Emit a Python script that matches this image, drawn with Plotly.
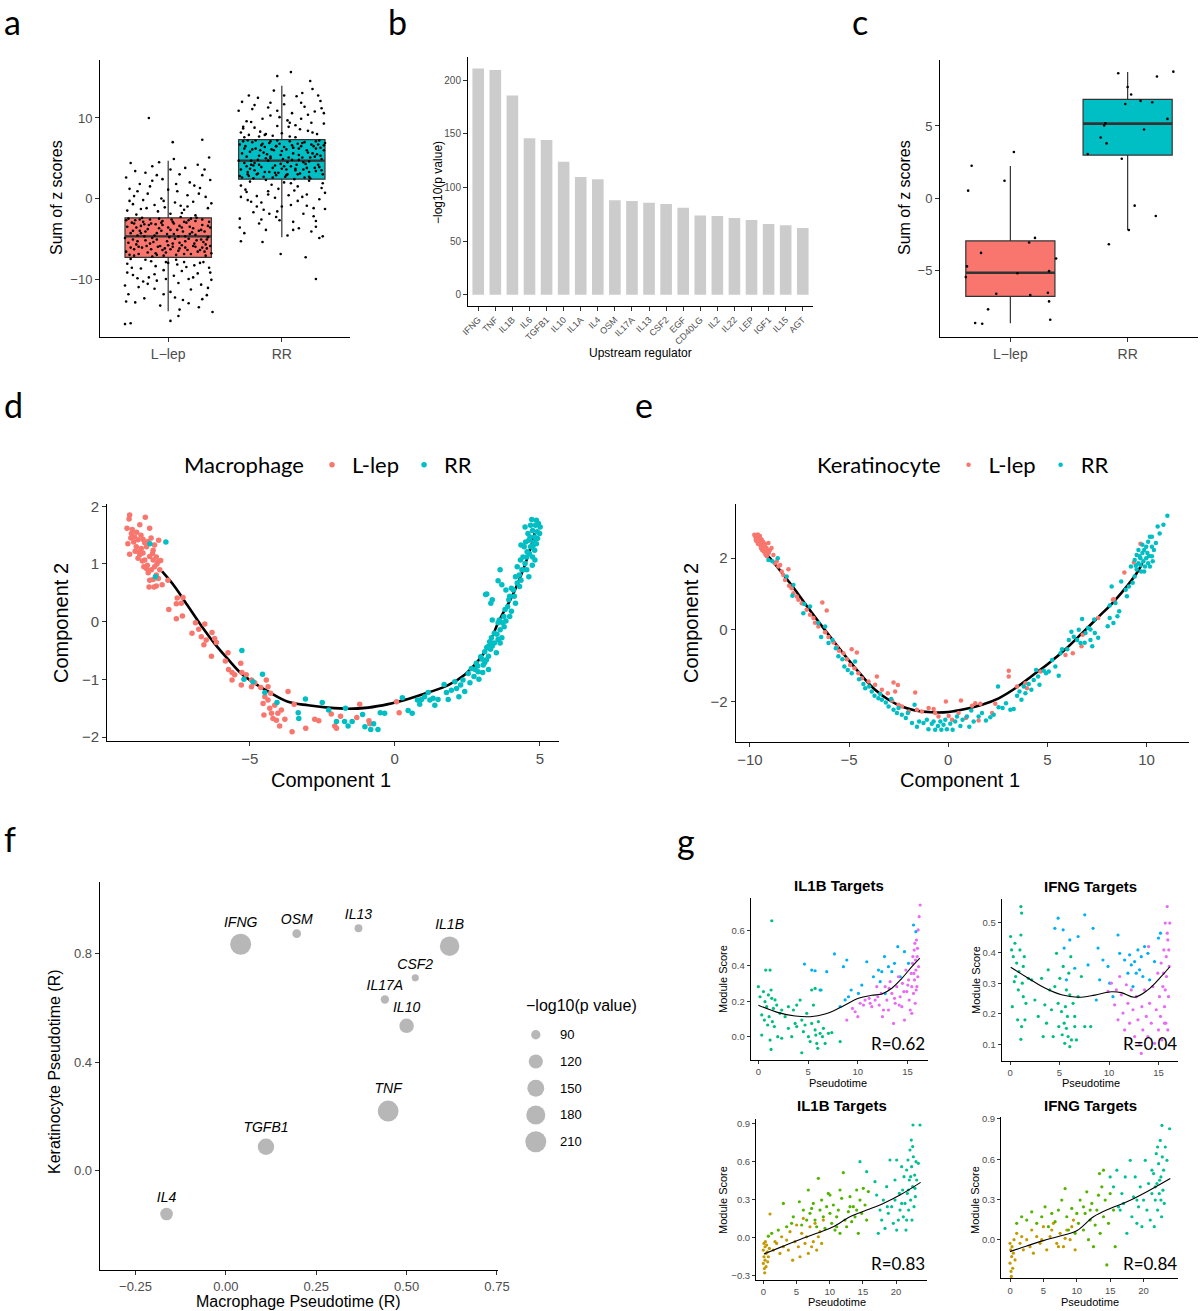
import math
import plotly.graph_objects as go

W, H = 1200, 1311
ARIAL = "Liberation Sans, Arial, sans-serif"
CAL = "Lato, sans-serif"
RED, CYAN = "#F8766D", "#00BFC4"

# ======================= DATA =======================
groups = ["L\u2212lep", "RR"]

# panel a : box statistics + jittered cells (jitter, sum of z scores)
a_q1 = [-7.3, 2.4]
a_med = [-4.7, 4.7]
a_q3 = [-2.4, 7.3]
a_lo = [-14.0, -4.8]
a_hi = [4.7, 14.0]
a_llep = [(-0.35,-2.5),(-0.3,-3.1),(-0.25,-4.0),(-0.2,-5.2),(-0.15,-6.3),(-0.1,-7.0),(-0.05,-2.8),(0.0,-3.6),(0.05,-4.4),(0.1,-5.5),(0.15,-6.1),(0.2,-6.9),(0.25,-2.4),(0.3,-3.3),(0.35,-4.8),(0.37,-5.9),(-0.37,-6.6),(-0.33,-4.3),(-0.28,-5.7),(-0.22,-2.9),(-0.18,-3.8),(-0.12,-4.6),(-0.07,-5.9),(-0.02,-6.7),(0.03,-2.6),(0.08,-3.9),(0.13,-4.1),(0.18,-5.0),(0.23,-5.6),(0.28,-6.4),(0.33,-7.1),(-0.36,-3.5),(-0.31,-5.1),(-0.26,-6.9),(-0.21,-4.7),(-0.16,-2.6),(-0.11,-3.2),(-0.06,-4.0),(-0.01,-5.3),(0.04,-6.0),(0.09,-6.5),(0.14,-2.9),(0.19,-3.5),(0.24,-4.5),(0.29,-5.1),(0.34,-6.2),(-0.34,-7.0),(-0.29,-2.7),(-0.24,-3.4),(-0.19,-5.9),(-0.14,-4.9),(-0.09,-6.0),(-0.04,-7.1),(0.01,-4.8),(0.06,-5.0),(0.11,-2.3),(0.16,-3.0),(0.21,-4.2),(0.26,-6.6),(0.31,-5.4),(0.36,-2.9),(-0.27,-4.6),(-0.13,-5.4),(0.02,-3.9),(0.17,-6.4),(0.32,-4.1),(-0.08,-2.5),(0.07,-7.0),(0.22,-3.7),(-0.23,-6.1),
          (-0.36,-1.5),(-0.3,0.3),(-0.25,1.8),(-0.2,3.2),(-0.12,-0.8),(-0.05,2.4),(0.02,-1.9),(0.08,0.9),(0.15,3.8),(0.22,-0.4),(0.28,1.3),(0.35,-1.2),(-0.33,4.4),(-0.28,-2.0),(-0.18,0.6),(-0.09,-1.6),(0.0,1.1),(0.11,-0.9),(0.19,2.0),(0.26,4.2),(0.33,0.2),(-0.37,2.6),(-0.22,-0.2),(-0.14,4.0),(0.05,4.9),(0.14,-1.4),(0.3,2.9),(0.38,-0.6),(-0.06,0.0),(0.24,-2.1),(-0.31,-0.7),(0.1,3.0),(-0.16,1.5),(0.36,5.1),(-0.03,-1.1),
          (-0.36,-8.1),(-0.31,-9.5),(-0.26,-11.0),(-0.21,-12.4),(-0.15,-7.8),(-0.1,-10.2),(-0.04,-8.9),(0.02,-11.6),(0.07,-7.6),(0.12,-9.0),(0.18,-13.0),(0.23,-8.3),(0.29,-10.7),(0.34,-12.0),(-0.38,-10.8),(-0.33,-7.5),(-0.24,-8.7),(-0.17,-9.8),(-0.07,-13.3),(0.0,-8.0),(0.09,-10.5),(0.16,-8.5),(0.26,-9.3),(0.37,-9.2),(-0.29,-12.9),(-0.12,-11.2),(0.05,-9.6),(0.2,-11.3),(0.31,-7.9),(-0.2,-7.6),(0.13,-12.6),(-0.02,-10.0),(0.35,-11.1),(-0.35,-11.9),(0.27,-13.5),
          (-0.17,10.0),(0.30,7.3),(0.04,7.0),(-0.38,-15.6),(-0.33,-15.5),(0.02,-15.2),(0.09,-14.6),(0.39,-14.1),
          (-0.32,-3.0),(-0.27,-5.3),(-0.17,-3.3),(-0.03,-6.2),(0.12,-5.8),(0.27,-4.0),(0.37,-3.6),(-0.23,-2.4),(-0.1,-4.3),(0.04,-5.6),(0.18,-2.7),(0.33,-5.7),(-0.38,-4.9),(-0.14,-7.2),(0.1,-3.4),(0.24,-6.0),(-0.05,-3.3),(0.3,-2.6),(-0.3,-6.3),(0.15,-4.7),
          (-0.27,0.9),(-0.1,2.9),(0.17,0.4),(0.32,3.6),(-0.34,-0.3),(0.06,-0.5),(-0.19,-1.2),(0.23,1.6),(-0.08,4.5),(0.12,-1.8),
          (-0.27,-9.9),(-0.11,-8.4),(0.06,-12.3),(0.22,-9.8),(0.36,-8.6),(-0.36,-9.2),(-0.18,-10.6),(0.14,-7.9),(0.3,-12.5),(-0.04,-11.9),
          (-0.37,-2.7),(-0.31,-4.0),(-0.26,-6.0),(-0.21,-3.2),(-0.16,-5.6),(-0.11,-6.8),(-0.06,-3.0),(-0.01,-4.4),(0.04,-2.9),(0.09,-4.7),(0.14,-6.9),(0.19,-4.4),(0.24,-2.8),(0.29,-3.9),(0.34,-5.1),(0.38,-6.8),(-0.35,-5.5),(-0.3,-7.1),(-0.25,-2.6),(-0.2,-4.1),(-0.15,-3.1),(-0.1,-5.1),(-0.05,-6.4),(0.0,-5.8),(0.05,-3.1),(0.1,-6.2),(0.15,-5.3),(0.2,-2.5),(0.25,-5.2),(0.3,-6.1),(0.35,-3.4),(-0.33,-6.1),(-0.28,-3.6),(-0.18,-6.7),(-0.08,-3.7),(0.02,-6.3),(0.12,-3.6),(0.22,-5.9),(0.32,-6.6),(-0.24,-4.3),
          (-0.34,1.2),(-0.24,-1.3),(-0.14,2.2),(-0.04,-0.3),(0.07,1.8),(0.17,-1.0),(0.27,0.6),(0.37,2.3),(-0.29,3.4),(0.02,3.6),
          (-0.32,-8.6),(-0.22,-10.3),(-0.12,-9.4),(-0.02,-7.9),(0.08,-8.2),(0.18,-10.0),(0.28,-8.0),(0.38,-10.1),(-0.37,-12.8),(0.1,-13.8)]
a_rr = [(-0.35,2.6),(-0.3,3.3),(-0.25,4.1),(-0.2,5.3),(-0.15,6.4),(-0.1,7.1),(-0.05,2.9),(0.0,3.7),(0.05,4.5),(0.1,5.6),(0.15,6.2),(0.2,7.0),(0.25,2.5),(0.3,3.4),(0.35,4.9),(0.37,6.0),(-0.37,6.7),(-0.33,4.4),(-0.28,5.8),(-0.22,3.0),(-0.18,3.9),(-0.12,4.7),(-0.07,6.0),(-0.02,6.8),(0.03,2.7),(0.08,4.0),(0.13,4.2),(0.18,5.1),(0.23,5.7),(0.28,6.5),(0.33,7.2),(-0.36,3.6),(-0.31,5.2),(-0.26,7.0),(-0.21,4.8),(-0.16,2.7),(-0.11,3.3),(-0.06,4.1),(-0.01,5.4),(0.04,6.1),(0.09,6.6),(0.14,3.0),(0.19,3.6),(0.24,4.6),(0.29,5.2),(0.34,6.3),(-0.34,7.1),(-0.29,2.8),(-0.24,3.5),(-0.19,6.0),(-0.14,5.0),(-0.09,6.1),(-0.04,7.2),(0.01,4.9),(0.06,5.1),(0.11,2.4),(0.16,3.1),(0.21,4.3),(0.26,6.7),(0.31,5.5),(0.36,3.0),(-0.27,4.7),(-0.13,5.5),(0.02,4.0),(0.17,6.5),(0.32,4.2),(-0.08,2.6),(0.07,7.1),(0.22,3.8),(-0.23,6.2),
        (-0.36,8.2),(-0.31,9.6),(-0.26,11.1),(-0.21,12.5),(-0.15,7.9),(-0.1,10.3),(-0.04,9.0),(0.02,11.7),(0.07,7.7),(0.12,9.1),(0.18,13.1),(0.23,8.4),(0.29,10.8),(0.34,12.1),(-0.38,10.9),(-0.33,7.6),(-0.24,8.8),(-0.17,9.9),(-0.07,13.4),(0.0,8.1),(0.09,10.6),(0.16,8.6),(0.26,9.4),(0.37,9.3),(-0.29,12.8),(-0.12,11.3),(0.05,9.7),(0.2,11.4),(0.31,8.0),(-0.2,7.7),(0.13,12.7),(-0.02,10.1),(0.35,11.2),(-0.35,12.0),(0.27,13.6),
        (-0.36,1.6),(-0.3,-0.2),(-0.25,-1.7),(-0.2,-3.1),(-0.12,0.9),(-0.05,-2.3),(0.02,2.0),(0.08,-0.8),(0.15,-3.7),(0.22,0.5),(0.28,-1.2),(0.35,1.3),(-0.33,-4.3),(-0.28,2.1),(-0.18,-0.5),(-0.09,1.7),(0.0,-1.0),(0.11,1.0),(0.19,-1.9),(0.26,-4.1),(0.33,-0.1),(-0.37,-2.5),(-0.22,0.3),(-0.14,-3.9),(0.05,-4.6),(0.14,1.5),(0.3,-2.8),(0.38,0.7),(-0.06,0.1),(0.24,2.2),(-0.31,0.8),(0.1,-2.9),(-0.16,-1.4),(0.36,-4.7),(-0.03,1.2),
        (0.08,15.7),(-0.04,15.2),(0.25,14.6),(0.30,-10.0),(0.21,-7.3),(-0.01,-6.9),(-0.36,-5.3),(-0.17,-5.4),(0.33,-4.9),
        (-0.32,6.5),(-0.27,4.2),(-0.17,6.8),(-0.03,3.2),(0.12,3.7),(0.27,5.6),(0.37,6.6),(-0.23,7.2),(-0.1,5.0),(0.04,3.6),(0.18,6.9),(0.33,3.9),(-0.38,4.7),(-0.14,2.3),(0.1,6.3),(0.24,3.3),(-0.05,6.5),(0.3,7.1),(-0.3,3.0),(0.15,4.8),
        (-0.27,9.5),(-0.1,11.9),(0.17,9.9),(0.32,12.8),(-0.34,8.7),(0.06,8.9),(-0.19,8.3),(0.23,10.4),(-0.08,7.8),(0.12,7.6),
        (-0.27,-0.4),(-0.11,-1.9),(0.06,0.4),(0.22,-0.9),(0.36,1.9),(-0.36,0.2),(-0.18,-2.6),(0.14,-0.3),(0.3,-3.5),(-0.04,-1.6),
        (-0.37,2.8),(-0.31,4.0),(-0.26,6.1),(-0.21,3.1),(-0.16,5.7),(-0.11,6.9),(-0.06,3.2),(-0.01,4.3),(0.04,2.9),(0.09,4.8),(0.14,6.8),(0.19,4.5),(0.24,2.7),(0.29,3.8),(0.34,5.3),(0.38,6.9),(-0.35,5.6),(-0.3,7.2),(-0.25,2.5),(-0.2,4.2),(-0.15,3.3),(-0.1,5.2),(-0.05,6.5),(0.0,5.9),(0.05,3.0),(0.1,6.3),(0.15,5.4),(0.2,2.6),(0.25,5.1),(0.3,6.2),(0.35,3.5),(-0.33,6.2),(-0.28,3.7),(-0.18,6.6),(-0.08,3.8),(0.02,6.4),(0.12,3.5),(0.22,6.0),(0.32,6.7),(-0.24,4.4),
        (-0.34,8.9),(-0.24,11.6),(-0.14,8.0),(-0.04,10.9),(0.07,9.4),(0.17,11.9),(0.27,8.2),(0.37,10.6),(-0.29,7.9),(0.02,12.8),
        (-0.32,1.1),(-0.22,-1.0),(-0.12,0.5),(-0.02,-2.7),(0.08,1.9),(0.18,0.2),(0.28,-2.2),(0.38,-1.3),(-0.37,-3.6),(0.1,-3.9)]

# panel b : upstream regulators
b_regs = ["IFNG","TNF","IL1B","IL6","TGFB1","IL10","IL1A","IL4","OSM","IL17A","IL13","CSF2","EGF","CD40LG","IL2","IL22","LEP","IGF1","IL15","AGT"]
b_vals = [211.0,209.6,185.7,146.0,144.2,124.0,109.7,107.6,88.0,87.4,85.9,84.6,81.2,74.0,73.4,71.6,69.8,66.0,64.8,62.3]

# panel c : box statistics + samples (jitter, value)
c_q1 = [-6.83, 2.98]
c_med = [-5.19, 5.16]
c_q3 = [-2.98, 6.85]
c_lo = [-8.7, -2.22]
c_hi = [2.22, 8.75]
c_llep = [(-0.33,2.24),(-0.36,0.51),(0.03,3.19),(-0.05,1.2),(0.21,-2.77),(0.16,-3.09),(-0.25,-3.81),(0.39,-4.2),(-0.37,-4.75),(-0.38,-5.49),(0.06,-5.22),(0.33,-5.08),(-0.12,-6.65),(0.17,-6.74),(0.32,-6.58),(0.33,-7.18),(-0.19,-7.73),(0.34,-8.45),(-0.3,-8.68),(-0.24,-8.73)]
c_rr = [(-0.08,8.66),(0.39,8.77),(0.25,8.43),(0.0,7.71),(0.03,7.18),(-0.02,6.53),(0.11,6.74),(0.21,6.65),(0.34,5.49),(-0.19,5.19),(-0.2,5.03),(0.14,4.76),(-0.23,4.2),(-0.18,3.79),(-0.34,3.05),(-0.05,2.72),(0.06,-0.53),(0.24,-1.25),(0.01,-2.22),(-0.16,-3.21)]

# panel d : macrophage trajectory (component 1, component 2)
d_traj_c1 = [-8.02,-7.59,-7.13,-6.67,-6.21,-5.75,-5.29,-4.83,-4.37,-3.68,-2.99,-2.30,-1.61,-0.92,-0.23,0.46,1.15,1.84,2.41,2.87,3.22,3.56,4.09,4.62,4.82]
d_traj_c2 = [0.87,0.61,0.27,-0.07,-0.38,-0.65,-0.90,-1.07,-1.21,-1.39,-1.45,-1.49,-1.51,-1.49,-1.43,-1.34,-1.23,-1.10,-0.92,-0.68,-0.43,-0.02,0.49,1.18,1.53]
d_llep = [(-9.14,1.85),(-9.16,1.78),(-8.60,1.81),(-9.23,1.62),(-8.79,1.68),(-8.45,1.62),(-9.08,1.53),(-8.97,1.47),(-9.14,1.17),(-8.85,1.42),(-8.68,1.43),(-8.51,1.39),(-8.14,1.41),(-8.91,1.30),(-8.74,1.27),(-8.56,1.30),(-8.33,1.24),(-8.79,1.16),(-8.45,1.13),(-8.22,1.12),(-8.07,1.06),(-8.62,1.07),(-8.53,0.98),(-8.28,0.95),(-8.39,0.90),(-8.45,0.72),(-8.22,0.81),(-8.47,0.60),(-8.22,0.62),(-8.02,0.64),(-9.00,1.38),(-8.68,1.19),(-8.16,1.04),(-8.33,1.07),(-8.56,0.92),(-8.10,0.90),(-8.33,0.73),(-7.82,0.72),(-8.83,1.21),(-8.28,1.33),
          (-9.05,1.60),(-8.90,1.55),(-8.75,1.50),(-8.62,1.37),(-8.40,1.45),(-9.20,1.35),(-8.95,1.22),(-8.70,1.05),(-8.35,1.18),(-8.20,1.00),(-8.50,0.85),(-8.65,0.95),(-8.30,0.60),(-8.15,0.75),(-8.85,1.10),(-9.10,1.45),
          (-7.79,0.21),(-7.53,0.31),(-7.50,0.41),(-7.30,0.42),(-7.36,0.32),(-7.53,0.05),(-7.32,0.10),(-6.99,-0.20),(-6.87,-0.02),(-6.76,-0.13),(-6.55,-0.04),(-6.67,-0.26),(-6.50,-0.32),(-6.30,-0.19),(-6.21,-0.29),(-6.58,-0.40),(-6.32,-0.60),(-6.15,-0.36),(-5.75,-0.54),(-5.84,-0.68),(-5.73,-0.83),(-5.61,-0.88),(-5.61,-1.01),(-5.52,-0.92),(-5.31,-0.72),(-5.27,-0.88),(-5.29,-1.10),(-5.12,-0.92),(-4.94,-1.01),(-4.94,-1.13),(-4.83,-1.06),(-4.62,-1.14),(-4.43,-1.01),(-4.37,-1.13),(-4.48,-1.30),(-4.54,-1.42),(-4.37,-1.36),(-4.51,-1.62),(-4.31,-1.50),(-4.25,-1.59),(-4.14,-1.45),(-4.20,-1.68),(-4.03,-1.59),(-4.08,-1.71),(-3.97,-1.81),(-3.79,-1.69),(-3.91,-1.53),(-4.28,-1.24),(-3.54,-1.91),(-3.47,-1.43),(-3.07,-1.85),(-2.76,-1.69),(-2.62,-1.72),(-2.07,-1.81),(-2.01,-1.85),(-1.87,-1.64),(-1.31,-1.66),(-1.21,-1.43),(-0.89,-1.72),(-0.86,-1.77),(0.06,-1.39),(0.15,-1.58),(-2.19,-1.60),(-3.68,-1.21)]
d_rr = [(-8.44,1.35),(-7.89,1.38),(-8.25,0.78),(-5.27,-0.50),(-5.20,-1.00),(-4.89,-1.04),(-4.56,-0.91),(-4.48,-1.23),(-4.06,-1.40),(-3.33,-1.58),(-3.31,-1.68),(-3.08,-1.34),(-2.50,-1.40),(-2.28,-1.53),(-2.01,-1.73),(-1.70,-1.50),(-1.73,-1.73),(-1.61,-1.81),(-1.47,-1.73),(-1.11,-1.61),(-1.03,-1.82),(-0.83,-1.87),(-0.73,-1.77),(-0.58,-1.87),(-0.50,-1.58),(-0.35,-1.59),(0.26,-1.32),(0.46,-1.54),(0.60,-1.59),(0.78,-1.36),(0.86,-1.43),(0.92,-1.35),(1.03,-1.30),(1.15,-1.23),(1.21,-1.36),(1.32,-1.33),(1.38,-1.45),(1.49,-1.35),(1.70,-1.09),(1.78,-1.23),(1.84,-1.35),(1.95,-1.19),(2.07,-1.04),(2.13,-1.16),(2.21,-1.30),(2.27,-1.10),(2.35,-1.01),(2.41,-1.21),(2.53,-0.90),(2.59,-1.06),(2.64,-0.81),(2.73,-0.95),(2.81,-0.72),(2.87,-0.87),(2.96,-0.61),(3.05,-0.75),(3.10,-0.52),(3.16,-0.66),(3.22,-0.43),(3.27,-0.35),(3.13,0.47),(3.31,0.32),(3.36,0.03),
        (3.17,0.48),(3.63,0.90),(3.56,0.71),(3.69,0.64),(3.36,0.38),(3.83,0.55),(3.96,0.44),(3.89,0.26),(3.76,0.09),(3.56,-0.02),(3.43,-0.20),(3.63,-0.14),(3.83,0.01),(4.02,0.18),(4.16,0.32),(4.09,0.55),(4.22,0.67),(4.29,0.81),(4.38,0.90),(4.33,1.07),(4.49,1.01),(4.55,1.12),(4.46,1.30),(4.62,1.41),(4.68,1.30),(4.59,1.53),(4.75,1.58),(4.82,1.47),(4.88,1.35),(4.95,1.70),(4.88,1.76),(5.01,1.64),(4.49,1.64),(4.68,1.67),(4.82,1.24),(4.64,1.18),(4.35,1.33),(4.75,1.12),(4.35,0.72),(4.55,0.90),(4.16,0.78),(4.02,0.58),(3.93,0.38),(3.80,0.21),(3.69,-0.28),(3.43,-0.37),(3.30,-0.48),(3.23,-0.60),(3.10,-0.71),(3.50,-0.54),(3.56,-0.31),(3.36,-0.42),(3.03,-0.88),(2.90,-1.00),(2.77,-0.83),(3.23,-0.83),(4.79,1.38),(4.91,1.56),(4.72,1.77),(4.42,1.12),(4.22,0.95),(4.83,1.07),(4.62,0.78),(4.51,1.38),(4.85,1.67),(4.99,1.53),(4.66,1.47),(4.77,1.32),(4.56,1.21),(4.92,1.44),(4.74,0.98),(4.43,0.90),(4.30,0.61),(4.12,0.44),(3.96,0.09),(3.72,-0.02),(3.52,-0.22),(3.63,-0.37),(3.33,-0.28),(3.17,-0.45),(3.01,-0.65),(2.86,-0.77),(3.60,0.03),(3.77,-0.09)]

# panel e : keratinocyte trajectory
e_traj_c1 = [-9.24,-8.99,-8.40,-7.73,-7.05,-6.38,-5.71,-5.03,-4.36,-3.69,-3.01,-2.34,-1.67,-0.83,0.02,0.86,1.70,2.54,3.38,4.23,5.07,5.91,6.75,7.59,8.35,9.50,9.79]
e_traj_c2 = [2.14,2.00,1.60,1.12,0.60,0.11,-0.37,-0.84,-1.28,-1.67,-1.95,-2.14,-2.25,-2.30,-2.29,-2.21,-2.09,-1.91,-1.63,-1.28,-0.93,-0.54,-0.09,0.37,0.79,1.58,1.86]
e_llep = [(-9.78,2.65),(-9.66,2.60),(-9.58,2.62),(-9.50,2.56),(-9.71,2.51),(-9.41,2.51),(-9.61,2.44),(-9.33,2.44),(-9.24,2.37),(-9.44,2.34),(-9.16,2.28),(-9.07,2.42),(-9.28,2.23),(-8.99,2.23),(-8.91,2.28),(-9.11,2.14),(-8.82,2.09),(-8.74,1.86),(-8.65,1.91),(-8.57,1.77),(-8.48,1.81),(-8.40,1.63),(-8.32,1.53),(-8.06,1.69),(-8.23,1.39),(-8.03,1.23),(-7.90,1.16),(-7.81,1.02),(-7.64,0.93),(-7.56,0.84),(-7.39,0.74),(-7.14,0.56),(-6.35,0.76),(-6.13,0.54),(-6.97,0.42),(-6.80,0.33),(-6.72,0.20),(-6.55,0.09),(-6.21,-0.07),(-6.04,-0.20),(-5.79,-0.35),(-5.62,-0.47),(-5.51,-0.58),(-5.29,-0.65),(-5.12,-0.82),(-4.95,-0.98),(-4.87,-0.54),(-4.61,-0.63),(-4.73,-1.07),(-4.53,-1.21),(-4.36,-1.35),(-4.02,-1.44),(-3.60,-1.30),(-3.69,-1.53),(-3.35,-1.67),(-3.05,-1.77),(-2.76,-1.47),(-2.54,-1.54),(-2.68,-1.72),(-2.84,-1.97),(-2.51,-2.09),(-2.34,-2.14),(-1.67,-1.75),(-2.00,-2.28),(-1.58,-2.23),(-1.33,-2.28),(-0.99,-2.18),(-0.74,-2.21),(-0.66,-2.32),(-0.49,-2.42),(-0.12,-2.00),(0.02,-2.40),(0.19,-2.51),(0.64,-1.97),(0.52,-2.32),(0.89,-2.46),(1.20,-2.12),(1.36,-2.05),(1.62,-2.06),(1.53,-2.53),(2.21,-2.32),(2.37,-2.06),(3.05,-1.14),(3.05,-1.30),(3.47,-1.58),(3.89,-1.49),(3.97,-1.63),(4.65,-1.16),(5.91,-0.70),(6.28,-0.65),(6.72,-0.46),(6.78,-0.14),(7.56,0.33),(8.30,0.84),(8.35,0.85),(9.36,1.88),(9.69,2.40),(8.88,1.60),
          (-9.70,2.58),(-9.62,2.55),(-9.55,2.50),(-9.48,2.45),(-9.40,2.40),(-9.35,2.32),(-9.28,2.30),(-9.20,2.25),(-9.12,2.20),(-9.05,2.15),(-9.75,2.62),(-9.68,2.48),(-9.60,2.40),(-9.52,2.38),(-9.45,2.28),(-9.38,2.22),(-9.30,2.18),(-9.22,2.10),(-9.15,2.05),(-9.60,2.66),(-9.50,2.62),(-9.42,2.52),(-9.35,2.46),(-9.25,2.40)]
e_rr = [(-9.07,1.95),(-8.87,1.91),(-8.60,2.00),(-8.15,1.49),(-7.86,0.95),(-7.81,1.25),(-7.31,0.46),(-7.26,0.72),(-6.97,0.65),(-6.55,0.19),(-6.41,-0.20),(-6.21,0.09),(-6.04,-0.37),(-5.84,-0.28),(-5.67,-0.51),(-5.54,-0.74),(-5.34,-0.82),(-5.24,-1.02),(-5.07,-1.12),(-4.87,-1.21),(-4.70,-0.88),(-4.50,-1.38),(-4.28,-1.51),(-4.19,-1.63),(-3.99,-1.58),(-3.86,-1.72),(-3.72,-1.84),(-3.52,-1.91),(-3.43,-1.79),(-3.35,-1.95),(-3.15,-2.03),(-3.01,-2.14),(-2.88,-1.93),(-2.76,-2.23),(-2.59,-2.32),(-2.51,-2.18),(-2.34,-2.37),(-2.14,-2.46),(-2.04,-2.32),(-1.83,-2.60),(-1.70,-2.09),(-1.58,-2.70),(-1.47,-2.56),(-1.25,-2.60),(-1.08,-2.51),(-1.00,-2.77),(-0.83,-2.62),(-0.74,-2.56),(-0.66,-2.79),(-0.52,-2.68),(-0.40,-2.56),(-0.35,-2.79),(-0.24,-2.65),(-0.15,-2.51),(-0.07,-2.77),(0.10,-2.62),(0.22,-2.79),(0.35,-2.56),(0.44,-2.42),(0.61,-2.68),(0.72,-2.51),(0.94,-2.42),(1.06,-2.70),(1.16,-2.25),(1.28,-2.56),(1.53,-2.42),(1.70,-2.32),(1.90,-2.53),(2.12,-2.44),(2.29,-2.37),(2.51,-1.58),(2.54,-2.16),(2.74,-2.18),(2.91,-2.05),(3.13,-2.23),(3.30,-2.21),(3.47,-1.84),(3.59,-1.72),(3.69,-1.95),(3.81,-1.58),(3.89,-1.77),(4.06,-1.51),(4.19,-1.67),(4.31,-1.40),(4.43,-1.12),(4.53,-1.30),(4.60,-1.53),(4.82,-1.14),(4.93,-1.21),(5.07,-1.16),(5.24,-0.84),(5.40,-1.02),(5.57,-1.28),(5.66,-0.65),(5.74,-0.54),(6.00,-0.54),(6.08,-0.28),(6.21,-0.05),(6.33,-0.19),(6.50,-0.28),(6.58,0.00),(6.67,-0.37),(6.75,0.30),(6.92,-0.09),(7.05,0.05),(7.17,-0.28),(7.26,-0.46),(7.39,-0.09),
        (8.14,0.33),(8.33,0.19),(8.53,0.38),(8.04,0.10),(8.62,0.52),(8.43,0.75),(8.24,1.21),(8.72,1.35),(8.95,1.12),(9.11,1.21),(9.30,1.31),(9.01,0.94),(9.40,1.49),(9.50,1.68),(9.59,1.86),(9.69,2.00),(9.79,2.14),(9.88,2.23),(9.98,2.32),(10.08,2.46),(10.17,2.60),(9.50,2.09),(9.69,1.81),(9.88,1.63),(10.08,1.86),(10.27,2.05),(10.37,2.23),(9.98,2.00),(9.79,2.37),(9.59,2.23),(9.40,1.95),(9.21,1.77),(9.73,1.63),(10.17,1.77),(10.27,2.32),(10.47,2.42),(10.66,2.69),(10.85,2.93),(11.05,3.18),(10.56,2.88),(10.27,2.60),(10.04,2.14),(9.84,1.91),(9.65,2.05),(9.92,1.77),(10.12,2.06),(9.46,1.79),(10.31,1.91),(8.14,0.68),(7.36,0.29),(7.17,0.01),(7.56,-0.22),(6.88,-0.36)]

# panel f : correlation with pseudotime
f_genes = ["IFNG","OSM","IL13","IL1B","CSF2","IL17A","IL10","TNF","TGFB1","IL4"]
f_mac = [0.041,0.196,0.367,0.619,0.524,0.440,0.500,0.449,0.111,-0.164]
f_ker = [0.835,0.874,0.894,0.828,0.711,0.631,0.534,0.219,0.087,-0.161]
f_p = [211,88,86,186,85,87,124,209,144,108]
f_leg_vals = [90,120,150,180,210]

# panel g : module scores along pseudotime (pseudotime, score)
g1_green = [(1.35,0.217),(1.28,0.264),(0.0,0.283),(0.17,0.226),(0.51,0.255),(0.67,0.198),(0.84,0.170),(1.01,0.236),(1.18,0.377),(0.74,0.377),(1.51,0.160),(1.68,0.208),(1.85,0.179),(0.34,0.123),(0.61,0.094),(0.94,0.066),(1.08,0.113),(1.41,0.085),(1.61,0.057),(0.34,0.009),(1.18,-0.019),(1.28,-0.072),(1.95,0.0),(1.35,0.656),(2.18,0.132),(2.35,-0.009),(2.69,0.113),(3.02,0.047),(3.36,0.0),(3.53,0.151),(3.70,0.075),(3.86,0.057),(4.20,0.207),(4.37,0.094),(4.37,-0.091),(4.53,0.028),(4.70,0.066),(4.87,0.132),(5.04,0.0),(5.21,-0.028),(5.37,0.075),(5.54,0.179),(5.71,0.038),(5.78,0.009),(5.88,-0.038),(5.98,-0.066),(6.04,0.085),(6.21,0.019),(6.31,0.264),(6.45,0.0),(6.55,0.047),(6.72,-0.038),(7.05,0.019),(7.39,0.023),(8.23,-0.028),(5.37,0.264),(5.71,0.273),(3.86,0.179),(2.35,0.151),(3.02,0.170)]
g1_blue = [(4.64,0.411),(5.37,0.377),(5.71,0.373),(6.21,0.264),(6.88,0.368),(7.66,0.468),(8.56,0.396),(8.90,0.434),(8.23,0.170),(8.73,0.208),(9.07,0.226),(9.34,0.264),(10.07,0.245),(10.41,0.292),(10.91,0.424),(11.58,0.339),(12.09,0.377),(12.42,0.368),(12.69,0.453),(13.09,0.396),(13.43,0.368),(13.70,0.415),(14.03,0.509),(14.27,0.339),(14.70,0.481),(15.11,0.415),(15.61,0.632),(15.85,0.594),(12.76,0.245),(12.26,0.311)]
g1_magenta = [(9.74,0.141),(10.24,0.189),(10.74,0.207),(11.15,0.217),(11.42,0.170),(11.75,0.207),(11.92,0.283),(12.16,0.179),(12.36,0.245),(12.49,0.113),(12.76,0.283),(12.93,0.207),(13.09,0.151),(13.26,0.311),(13.43,0.245),(13.60,0.075),(13.77,0.189),(13.93,0.283),(14.10,0.339),(14.27,0.226),(14.44,0.170),(14.50,0.302),(14.70,0.094),(14.84,0.377),(14.94,0.255),(15.11,0.321),(15.18,0.207),(15.28,0.151),(15.38,0.358),(15.44,0.283),(15.51,0.415),(15.61,0.245),(15.68,0.490),(15.71,0.321),(15.78,0.189),(15.85,0.377),(15.91,0.547),(15.95,0.283),(15.98,0.453),(16.05,0.339),(16.08,0.604),(16.12,0.396),(16.18,0.679),(16.28,0.745),(15.55,0.453),(15.75,0.528),(15.88,0.264),(16.01,0.500),(15.81,0.434),(15.65,0.358),(15.44,0.132),(15.04,0.292),(14.64,0.255),(14.17,0.179),(13.70,0.217),(13.16,0.273),(12.59,0.151),(12.02,0.226),(11.25,0.189),(10.58,0.179),(10.01,0.113),(9.47,0.160),(8.90,0.094)]
g1_curve_t = [0.0,2.01,3.70,5.21,6.72,8.40,10.07,11.42,12.43,13.43,14.44,15.45,16.25]
g1_curve_v = [0.178,0.136,0.117,0.113,0.128,0.170,0.217,0.234,0.242,0.274,0.330,0.396,0.444]

g2_green = [(0.06,0.453),(0.16,0.409),(0.33,0.387),(0.50,0.431),(0.57,0.322),(0.67,0.366),(0.84,0.278),(0.90,0.338),(1.00,0.409),(1.10,0.458),(1.10,0.551),(1.17,0.530),(1.24,0.300),(1.34,0.256),(1.34,0.355),(1.44,0.387),(1.51,0.180),(1.17,0.158),(1.10,0.116),(0.77,0.180),(0.43,0.305),(0.23,0.223),(1.61,0.234),(1.85,0.316),(2.18,0.311),(2.51,0.245),(2.85,0.191),(3.19,0.316),(3.35,0.125),(3.52,0.229),(3.69,0.169),(3.86,0.344),(4.02,0.278),(4.19,0.213),(4.36,0.125),(4.53,0.289),(4.70,0.398),(4.86,0.234),(4.93,0.158),(5.03,0.316),(5.20,0.207),(5.27,0.131),(5.37,0.355),(5.47,0.169),(5.53,0.103),(5.60,0.223),(5.70,0.278),(5.70,0.152),(5.80,0.191),(5.87,0.125),(5.94,0.333),(6.04,0.262),(6.04,0.092),(6.14,0.387),(6.21,0.114),(6.37,0.234),(6.54,0.191),(6.54,0.158),(6.71,0.114),(7.21,0.322),(7.55,0.158),(8.15,0.158),(6.88,0.256)]
g2_blue = [(4.86,0.513),(5.37,0.475),(4.53,0.480),(5.47,0.415),(6.04,0.442),(5.70,0.311),(6.54,0.349),(6.88,0.453),(7.55,0.524),(7.88,0.360),(8.39,0.480),(8.72,0.245),(8.89,0.415),(9.06,0.311),(9.39,0.376),(9.90,0.355),(10.07,0.300),(10.40,0.256),(10.91,0.458),(11.08,0.398),(11.58,0.376),(11.91,0.333),(12.08,0.393),(12.25,0.360),(12.42,0.289),(12.59,0.371),(12.75,0.333),(12.92,0.409),(13.09,0.344),(13.26,0.387),(13.42,0.322),(13.59,0.420),(13.93,0.398),(14.10,0.311),(14.60,0.371),(15.00,0.448),(15.20,0.464)]
g2_magenta = [(9.90,0.273),(10.24,0.300),(10.57,0.229),(10.74,0.278),(10.91,0.180),(11.08,0.322),(11.24,0.262),(11.41,0.202),(11.58,0.147),(11.75,0.295),(11.91,0.234),(12.08,0.169),(12.25,0.278),(12.42,0.213),(12.59,0.125),(12.75,0.256),(12.92,0.180),(13.09,0.103),(13.26,0.070),(13.32,0.223),(13.42,0.147),(13.59,0.278),(13.76,0.191),(13.93,0.125),(14.00,0.420),(14.10,0.234),(14.27,0.169),(14.43,0.289),(14.60,0.103),(14.77,0.213),(14.93,0.333),(15.00,0.147),(15.10,0.256),(15.20,0.191),(15.27,0.366),(15.34,0.114),(15.44,0.289),(15.54,0.409),(15.61,0.223),(15.68,0.497),(15.74,0.169),(15.81,0.322),(15.88,0.551),(15.94,0.442),(16.01,0.256),(16.08,0.355),(16.14,0.497),(15.78,0.387),(15.68,0.278),(15.94,0.147),(15.51,0.333),(16.04,0.409),(15.61,0.169),(15.88,0.464)]
g2_curve_t = [0.07,1.85,3.52,5.20,6.88,8.56,10.24,11.25,12.59,13.93,15.28,16.14]
g2_curve_v = [0.352,0.316,0.284,0.262,0.254,0.261,0.272,0.269,0.254,0.278,0.322,0.354]

g3_gold = [(0.10,-0.045),(0.26,-0.071),(0.00,-0.097),(0.41,-0.124),(0.10,-0.150),(0.26,-0.177),(0.00,-0.203),(0.41,-0.229),(0.21,-0.277),(0.51,-0.058),(0.61,-0.111),(0.76,-0.150),(0.91,-0.084),(0.31,-0.031),(0.66,-0.190),(0.16,-0.243),(1.01,0.188),(1.51,-0.097),(2.01,-0.045),(2.51,-0.124),(3.02,-0.071),(3.52,-0.018),(3.77,-0.097),(4.42,-0.177),(4.77,-0.031),(5.28,-0.071),(5.53,-0.150),(5.78,0.035),(6.03,0.153),(6.28,-0.045),(6.53,0.008),(6.78,-0.124),(7.03,0.087),(7.28,-0.071),(7.53,-0.031),(7.79,0.114),(8.04,-0.097),(8.29,0.008),(8.54,0.048),(8.79,-0.045),(9.04,0.140),(4.02,0.048),(5.02,0.101),(2.77,0.008),(1.76,-0.031)]
g3_green = [(0.76,0.013),(1.26,0.035),(2.26,0.061),(3.02,0.272),(3.52,0.087),(4.27,0.114),(4.52,0.166),(5.43,0.285),(5.78,0.101),(6.03,0.219),(6.53,0.140),(6.78,0.378),(7.03,0.193),(7.28,0.232),(7.53,0.272),(7.79,0.140),(8.04,0.087),(8.29,0.470),(8.54,0.219),(8.79,0.298),(9.04,0.166),(9.29,0.074),(9.54,0.246),(9.79,0.351),(10.04,0.193),(10.30,0.114),(10.55,0.259),(10.80,0.061),(11.05,0.166),(11.30,0.219),(11.55,0.035),(11.80,0.312),(12.05,0.515),(12.30,0.140),(12.55,0.087),(12.81,0.206),(13.06,0.325),(13.31,0.127),(13.56,0.246),(13.81,0.166),(14.06,0.378),(14.31,0.035),(14.56,0.298),(14.81,0.193),(15.06,0.391),(15.32,0.259),(15.57,0.140),(15.82,0.365),(13.06,0.246),(14.06,0.219),(11.55,0.378),(10.04,0.338),(11.05,0.087)]
g3_teal = [(14.56,0.602),(15.57,0.523),(16.82,0.444),(17.07,0.338),(17.32,0.035),(17.58,0.219),(17.83,0.140),(18.08,0.298),(18.33,0.074),(18.58,0.404),(18.83,0.193),(19.08,0.615),(19.33,0.246),(19.58,0.114),(19.83,0.298),(20.09,0.615),(20.34,0.140),(20.59,0.219),(20.84,0.562),(20.99,0.378),(21.09,0.166),(21.19,0.483),(21.34,0.272),(21.49,0.061),(21.59,0.536),(21.69,0.351),(21.79,0.615),(21.89,0.219),(21.99,0.457),(22.09,0.694),(22.19,0.298),(22.29,0.773),(22.34,0.562),(22.39,0.140),(22.50,0.404),(22.54,0.892),(22.60,0.641),(22.70,0.246),(22.80,0.496),(22.90,0.325),(23.00,0.602),(23.10,0.457),(23.60,0.892),(23.35,0.589),(18.68,0.246),(19.83,0.457),(20.49,0.351),(21.59,0.140),(22.19,0.483),(22.85,0.391),(22.50,0.721),(21.84,0.378),(20.84,0.272),(20.09,0.061)]
g3_curve_t = [0.1,3.01,5.53,8.04,10.54,13.06,15.57,18.07,20.59,23.7]
g3_curve_v = [-0.129,-0.066,-0.013,0.035,0.087,0.166,0.219,0.272,0.338,0.438]

g4_gold = [(0.00,-0.027),(0.10,-0.076),(0.25,-0.126),(0.00,-0.175),(0.40,-0.213),(0.15,-0.237),(0.50,-0.101),(0.30,-0.052),(0.60,0.000),(0.75,-0.151),(0.20,-0.274),(1.00,0.047),(1.50,-0.027),(2.00,-0.076),(2.50,0.000),(3.00,-0.052),(3.50,-0.101),(4.00,0.023),(4.50,-0.027),(5.00,0.097),(5.50,-0.076),(6.00,0.023),(6.50,0.122),(7.00,-0.027),(7.50,0.047),(8.00,-0.052),(8.50,0.072),(9.00,0.000),(9.50,0.146),(9.75,-0.076),(9.25,0.097),(8.25,0.010),(7.25,-0.052),(6.25,0.072),(4.75,0.000),(3.25,0.072),(1.75,0.023)]
g4_green = [(1.00,0.122),(1.75,0.171),(2.50,0.146),(3.25,0.208),(4.00,0.122),(4.75,0.171),(5.25,0.245),(5.75,0.097),(6.25,0.196),(6.75,0.134),(7.25,0.221),(7.75,0.295),(8.25,0.381),(8.50,0.171),(8.75,0.072),(9.25,0.233),(9.75,0.047),(10.25,0.122),(10.50,0.295),(11.00,0.072),(11.25,0.196),(11.50,0.357),(11.75,0.000),(12.00,0.146),(12.25,0.270),(12.50,-0.052),(12.75,0.109),(13.00,0.221),(13.25,0.332),(13.50,0.047),(13.75,0.394),(14.00,0.171),(14.25,0.295),(14.50,-0.188),(14.75,0.122),(15.00,0.344),(15.50,0.221),(15.75,-0.052),(14.00,0.518),(13.40,0.493),(12.00,0.221),(11.00,0.245),(10.00,0.196)]
g4_teal = [(15.00,0.468),(15.50,0.394),(16.00,0.518),(16.50,0.221),(16.75,0.344),(17.00,0.270),(17.50,0.047),(18.00,0.592),(18.25,0.171),(18.50,0.320),(18.75,0.468),(19.00,0.122),(19.25,0.245),(19.50,0.394),(19.75,0.097),(20.00,0.295),(20.25,0.592),(20.50,0.221),(20.75,0.419),(21.00,0.146),(21.25,0.344),(21.50,0.493),(21.60,0.097),(21.75,0.295),(21.90,0.641),(22.00,0.419),(22.10,0.221),(22.25,0.567),(22.35,0.344),(22.50,0.740),(22.60,0.468),(22.70,0.171),(22.75,0.852),(22.80,0.617),(22.90,0.369),(23.00,0.518),(23.10,0.270),(23.25,0.691),(23.50,0.592),(23.90,0.827),(22.40,0.443),(22.10,0.691),(21.75,0.394),(21.25,0.518),(22.60,0.295),(19.00,0.295),(17.25,0.468),(16.25,0.245)]
g4_curve_t = [0.0,2.5,5.0,7.5,10.0,12.5,15.0,17.5,20.0,24.0]
g4_curve_v = [-0.089,-0.047,-0.007,0.027,0.067,0.171,0.233,0.282,0.344,0.456]

g_titles = ["IL1B Targets", "IFNG Targets", "IL1B Targets", "IFNG Targets"]
g_r = ["R=0.62", "R=0.04", "R=0.83", "R=0.84"]

# ======================= HELPERS =======================
def xs(pts): return [p[0] for p in pts]
def ys(pts): return [p[1] for p in pts]
def dx(a, b): return [a / W, b / W]
def dy(top, bottom): return [1 - bottom / H, 1 - top / H]

def axis(domain, rng, anchor, tickvals=None, size=13, **kw):
    d = dict(domain=domain, range=rng, anchor=anchor, showline=True, linecolor="black", linewidth=1,
             ticks="outside", ticklen=4, tickwidth=1, tickcolor="#333333", showgrid=False, zeroline=False,
             automargin=False, tickfont=dict(family=ARIAL, size=size, color="#4D4D4D"))
    if tickvals is not None:
        d["tickvals"] = tickvals
    d.update(kw)
    return d

annotations = []
def ann(text, x, y, size, family=ARIAL, angle=0, xanchor="center", yanchor="middle", color="black", xref="paper", yref="paper"):
    annotations.append(dict(text=text, x=(x / W if xref == "paper" else x), y=(1 - y / H if yref == "paper" else y),
                            xref=xref, yref=yref, showarrow=False, textangle=angle, xanchor=xanchor, yanchor=yanchor,
                            font=dict(family=family, size=size, color=color)))

fig = go.Figure()
positions = [1, 2]

# ---------------- panel a ----------------
for i in range(2):
    fig.add_trace(go.Box(x=[positions[i]], q1=[a_q1[i]], median=[a_med[i]], q3=[a_q3[i]],
                         lowerfence=[a_lo[i]], upperfence=[a_hi[i]], width=0.76, whiskerwidth=0,
                         fillcolor=[RED, CYAN][i], line=dict(color="#333333", width=1.2),
                         boxpoints=False, showlegend=False, xaxis="x", yaxis="y", hoverinfo="skip"))
    fig.add_trace(go.Scatter(x=[positions[i] - 0.38, positions[i] + 0.38], y=[a_med[i], a_med[i]], mode="lines",
                             line=dict(color="#333333", width=2.4), showlegend=False, xaxis="x", yaxis="y"))
for i, pts in enumerate([a_llep, a_rr]):
    fig.add_trace(go.Scatter(x=[positions[i] + j for j in xs(pts)], y=ys(pts), mode="markers",
                             marker=dict(color="black", size=2.6), showlegend=False, xaxis="x", yaxis="y"))

# ---------------- panel b ----------------
fig.add_trace(go.Bar(x=b_regs, y=b_vals, marker=dict(color="#CCCCCC", line=dict(width=0)), width=0.68,
                     showlegend=False, xaxis="x2", yaxis="y2"))

# ---------------- panel c ----------------
for i in range(2):
    fig.add_trace(go.Box(x=[positions[i]], q1=[c_q1[i]], median=[c_med[i]], q3=[c_q3[i]],
                         lowerfence=[c_lo[i]], upperfence=[c_hi[i]], width=0.76, whiskerwidth=0,
                         fillcolor=[RED, CYAN][i], line=dict(color="#333333", width=1.2),
                         boxpoints=False, showlegend=False, xaxis="x3", yaxis="y3", hoverinfo="skip"))
    fig.add_trace(go.Scatter(x=[positions[i] - 0.38, positions[i] + 0.38], y=[c_med[i], c_med[i]], mode="lines",
                             line=dict(color="#333333", width=2.6), showlegend=False, xaxis="x3", yaxis="y3"))
for i, pts in enumerate([c_llep, c_rr]):
    fig.add_trace(go.Scatter(x=[positions[i] + j for j in xs(pts)], y=ys(pts), mode="markers",
                             marker=dict(color="black", size=2.6), showlegend=False, xaxis="x3", yaxis="y3"))

# ---------------- panel d ----------------
fig.add_trace(go.Scatter(x=d_traj_c1, y=d_traj_c2, mode="lines", line=dict(color="black", width=2.6, shape="spline"),
                         showlegend=False, xaxis="x4", yaxis="y4"))
fig.add_trace(go.Scatter(x=xs(d_llep), y=ys(d_llep), mode="markers", name="L-lep", legend="legend",
                         marker=dict(color=RED, size=5.5), xaxis="x4", yaxis="y4"))
fig.add_trace(go.Scatter(x=xs(d_rr), y=ys(d_rr), mode="markers", name="RR", legend="legend",
                         marker=dict(color=CYAN, size=5.5), xaxis="x4", yaxis="y4"))

# ---------------- panel e ----------------
fig.add_trace(go.Scatter(x=e_traj_c1, y=e_traj_c2, mode="lines", line=dict(color="black", width=2.6, shape="spline"),
                         showlegend=False, xaxis="x5", yaxis="y5"))
fig.add_trace(go.Scatter(x=xs(e_llep), y=ys(e_llep), mode="markers", name="L-lep", legend="legend2",
                         marker=dict(color=RED, size=4.5), xaxis="x5", yaxis="y5"))
fig.add_trace(go.Scatter(x=xs(e_rr), y=ys(e_rr), mode="markers", name="RR", legend="legend2",
                         marker=dict(color=CYAN, size=4.5), xaxis="x5", yaxis="y5"))

# ---------------- panel f ----------------
P_LO, P_HI, D_LO, D_HI = 84.6, 211.0, 6.3, 21.0
def bubble(p):
    return D_LO + (D_HI - D_LO) * math.sqrt(max(p - P_LO, 0) / (P_HI - P_LO))
fig.add_trace(go.Scatter(x=f_mac, y=f_ker, mode="markers+text", text=["<i>%s</i>" % g for g in f_genes],
                         textposition="top center", textfont=dict(family=ARIAL, size=14, color="black"),
                         marker=dict(color="#999999", size=[bubble(p) for p in f_p], line=dict(width=0)),
                         showlegend=False, xaxis="x6", yaxis="y6"))
fig.add_trace(go.Scatter(x=[0] * len(f_leg_vals), y=f_leg_vals, mode="markers",
                         marker=dict(color="#999999", size=[bubble(p) for p in f_leg_vals], line=dict(width=0)),
                         showlegend=False, xaxis="x7", yaxis="y7"))
for v in f_leg_vals:
    ann(str(v), 21.9, v, 13, xanchor="left", xref="x7", yref="y7")

# ---------------- panel g ----------------
GOLD, GGREEN, GTEAL = "#C49A00", "#53B400", "#00C094"
PGREEN, PBLUE, PMAG = "#00BF7D", "#00B0F6", "#E76BF3"
g_sets = [
    ([(g1_green, PGREEN), (g1_blue, PBLUE), (g1_magenta, PMAG)], g1_curve_t, g1_curve_v),
    ([(g2_green, PGREEN), (g2_blue, PBLUE), (g2_magenta, PMAG)], g2_curve_t, g2_curve_v),
    ([(g3_gold, GOLD), (g3_green, GGREEN), (g3_teal, GTEAL)], g3_curve_t, g3_curve_v),
    ([(g4_gold, GOLD), (g4_green, GGREEN), (g4_teal, GTEAL)], g4_curve_t, g4_curve_v),
]
for k, (grp, ct, cv) in enumerate(g_sets):
    xa, ya = "x%d" % (8 + k), "y%d" % (8 + k)
    for pts, col in grp:
        fig.add_trace(go.Scatter(x=xs(pts), y=ys(pts), mode="markers", marker=dict(color=col, size=3.2),
                                 showlegend=False, xaxis=xa, yaxis=ya))
    fig.add_trace(go.Scatter(x=ct, y=cv, mode="lines", line=dict(color="black", width=1.1, shape="spline"),
                             showlegend=False, xaxis=xa, yaxis=ya))

# ======================= LAYOUT =======================
layout = dict(width=W, height=H, margin=dict(l=0, r=0, t=0, b=0, autoexpand=False), paper_bgcolor="white",
              plot_bgcolor="white", showlegend=True, template="none")
layout["xaxis"] = axis(dx(100, 350), [0.4, 2.6], "y", positions, size=14, ticktext=groups)
layout["yaxis"] = axis(dy(60, 337), [-17.2, 17.2], "x", [-10, 0, 10], size=13)
layout["xaxis2"] = axis(dx(468, 813), [-0.6, 19.6], "y2", None, size=9, type="category", tickangle=-45)
layout["yaxis2"] = axis(dy(57, 306), [-10.5, 221.7], "x2", [0, 50, 100, 150, 200], size=10)
layout["xaxis3"] = axis(dx(940, 1198), [0.4, 2.6], "y3", positions, size=14, ticktext=groups)
layout["yaxis3"] = axis(dy(60, 337), [-9.65, 9.58], "x3", [-5, 0, 5], size=13)
layout["xaxis4"] = axis(dx(107, 559), [-9.92, 5.66], "y4", [-5, 0, 5], size=15)
layout["yaxis4"] = axis(dy(504, 740.7), [-2.064, 2.04], "x4", [-2, -1, 0, 1, 2], size=15)
layout["xaxis5"] = axis(dx(735.7, 1189), [-10.72, 12.14], "y5", [-10, -5, 0, 5, 10], size=15)
layout["yaxis5"] = axis(dy(504, 741.7), [-3.12, 3.51], "x5", [-2, 0, 2], size=15)
layout["xaxis6"] = axis(dx(99.7, 497.5), [-0.349, 0.7515], "y6", [-0.25, 0, 0.25, 0.5, 0.75], size=13, tickformat=".2f")
layout["yaxis6"] = axis(dy(881.7, 1270), [-0.368, 1.066], "x6", [0.0, 0.4, 0.8], size=13, tickformat=".1f")
layout["xaxis7"] = dict(domain=dx(520, 600), range=[-15.8, 64.2], anchor="y7", visible=False)
layout["yaxis7"] = dict(domain=dy(1020, 1156), range=[226, 73.5], anchor="x7", visible=False)
g_dom = [((750.7, 928.3), (898.3, 1060)), ((1001.7, 1178.3), (899.3, 1060.7)),
         ((756, 927.3), (1119.3, 1280)), ((1001, 1178.3), (1116.7, 1278.3))]
g_xr = [[-0.77, 17.1], [-0.84, 17.0], [-1.1, 24.7], [-1.35, 25.2]]
g_yr = [[-0.132, 0.783], [0.046, 0.575], [-0.334, 0.937], [-0.288, 0.917]]
g_xt = [[0, 5, 10, 15], [0, 5, 10, 15], [0, 5, 10, 15, 20], [0, 5, 10, 15, 20]]
g_yt = [[0.0, 0.2, 0.4, 0.6], [0.1, 0.2, 0.3, 0.4, 0.5], [-0.3, 0.0, 0.3, 0.6, 0.9], [0.0, 0.3, 0.6, 0.9]]
for k in range(4):
    (x0, x1), (y0, y1) = g_dom[k]
    layout["xaxis%d" % (8 + k)] = axis(dx(x0, x1), g_xr[k], "y%d" % (8 + k), g_xt[k], size=9.5, ticklen=3)
    layout["yaxis%d" % (8 + k)] = axis(dy(y0, y1), g_yr[k], "x%d" % (8 + k), g_yt[k], size=9.5, ticklen=3,
                                       tickformat=".1f")

leg_common = dict(orientation="h", xanchor="left", yanchor="middle", bgcolor="rgba(0,0,0,0)",
                  font=dict(family=CAL, size=22, color="black"), itemwidth=30, tracegroupgap=0)
layout["legend"] = dict(x=182 / W, y=1 - 465 / H, title=dict(text="Macrophage", side="left",
                        font=dict(family=CAL, size=22, color="black")), **leg_common)
layout["legend2"] = dict(x=815 / W, y=1 - 465 / H, title=dict(text="Keratinocyte", side="left",
                         font=dict(family=CAL, size=22, color="black")), **leg_common)

# panel letters
for t, x, y in [("a", 2, 22), ("b", 386, 22), ("c", 850, 22), ("d", 2, 404), ("e", 633, 404), ("f", 2, 838), ("g", 675, 840)]:
    ann(t, x, y, 34, family=CAL, xanchor="left")

# axis titles
ann("Sum of z scores", 57, 198, 16, angle=-90)
ann("\u2212log10(p value)", 438, 183, 12, angle=-90)
ann("Upstream regulator", 640, 353, 12)
ann("Sum of z scores", 905, 198, 16, angle=-90)
ann("Component 2", 61, 623, 20, angle=-90)
ann("Component 1", 331, 780, 20)
ann("Component 2", 691, 623, 20, angle=-90)
ann("Component 1", 960, 780, 20)
ann("Keratinocyte Pseudotime (R)", 54, 1072, 16, angle=-90)
ann("Macrophage Pseudotime (R)", 298, 1301, 16)
ann("\u2212log10(p value)", 524, 1005, 16, xanchor="left")

g_title_pos = [(839, 885), (1090, 886), (842, 1105), (1090, 1105)]
g_ytitle_pos = [(723, 979), (976, 980), (723, 1200), (975, 1200)]
g_xtitle_pos = [(838, 1083), (1091, 1083), (837, 1302), (1090, 1302)]
g_r_pos = [(927, 1043), (1179, 1043), (927, 1263), (1179, 1263)]
for k in range(4):
    ann("<b>%s</b>" % g_titles[k], g_title_pos[k][0], g_title_pos[k][1], 15)
    ann("Module Score", g_ytitle_pos[k][0], g_ytitle_pos[k][1], 11, angle=-90)
    ann("Pseudotime", g_xtitle_pos[k][0], g_xtitle_pos[k][1], 11)
    ann(g_r[k], g_r_pos[k][0], g_r_pos[k][1], 17, family=CAL, xanchor="right")

layout["annotations"] = annotations
fig.update_layout(**layout)
fig.write_html("out.html", config={"displayModeBar": False},
               post_script="document.body.style.margin='0';document.body.style.padding='0';document.body.style.overflow='hidden';")
